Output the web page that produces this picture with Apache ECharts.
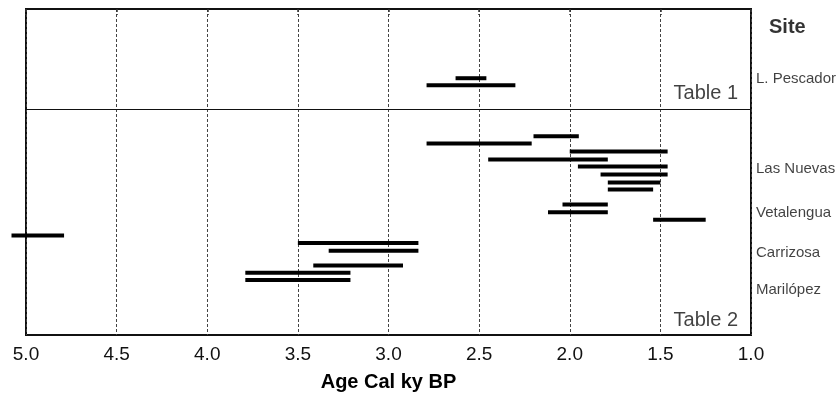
<!DOCTYPE html>
<html>
<head>
<meta charset="utf-8">
<script src="https://cdn.jsdelivr.net/npm/echarts@6/dist/echarts.min.js"></script>
<style>html,body{margin:0;padding:0;background:#fff;}#c{width:838px;height:399px;}</style>
</head>
<body>
<div id="c"></div>
<script>
// Age ranges (ky cal BP): older bound, younger bound, and vertical row position
var oldAge   = [2.63, 2.79, 2.20, 2.79, 2.00, 2.45, 1.955, 1.83, 1.79, 1.79, 2.04, 2.12, 1.54, 5.08, 3.50, 3.33, 3.415, 3.79, 3.79];
var youngAge = [2.46, 2.30, 1.95, 2.21, 1.46, 1.79, 1.46, 1.46, 1.50, 1.54, 1.79, 1.79, 1.25, 4.79, 2.835, 2.835, 2.92, 3.21, 3.21];
var rowPos   = [9.13, 10.06, 16.8, 17.73, 18.79, 19.85, 20.77, 21.83, 22.89, 23.82, 25.8, 26.82, 27.79, 29.86, 30.87, 31.89, 33.83, 34.8, 35.76];

var siteNames = ['L. Pescador', 'Las Nuevas', 'Vetalengua', 'Carrizosa', 'Marilópez'];
var sitePos   = [9.25, 21.15, 26.95, 32.15, 37.05];
var headerText = 'Site';
var headerPos = 2.5;
var tableNames = ['Table 1', 'Table 2'];
var tablePos = [11.2, 41.1];
var separatorPos = 13.2;

var FONT = '"Liberation Sans", Arial, Helvetica, sans-serif';
var chart = echarts.init(document.getElementById('c'), null, {renderer: 'canvas'});

var barData = oldAge.map(function (o, i) { return [o, youngAge[i], rowPos[i]]; });

var option = {
  animation: false,
  backgroundColor: '#fff',
  grid: {left: 26, right: 87, top: 9, bottom: 64, show: true, borderColor: '#111', borderWidth: 2, backgroundColor: 'transparent'},
  xAxis: {
    type: 'value', min: 1, max: 5, interval: 0.5, inverse: true,
    axisLine: {show: true, lineStyle: {color: '#111', width: 2}},
    axisTick: {show: true, length: 6, lineStyle: {color: '#333', width: 1.5, type: [3, 2]}},
    axisLabel: {margin: 10, fontSize: 19, color: '#111', fontFamily: FONT,
      formatter: function (v) { return v.toFixed(1); }},
    splitLine: {show: true, lineStyle: {color: '#444', type: [3, 2], width: 1}},
    name: 'Age Cal ky BP', nameLocation: 'middle', nameGap: 37,
    nameTextStyle: {fontSize: 20, fontWeight: 'bold', color: '#000', fontFamily: FONT}
  },
  yAxis: {
    type: 'value', min: 0, max: 43, inverse: true,
    axisLine: {show: false}, axisTick: {show: false}, axisLabel: {show: false}, splitLine: {show: false}
  },
  series: [
    {
      type: 'custom',
      clip: false,
      data: barData,
      encode: {x: [0, 1], y: 2},
      renderItem: function (params, api) {
        var p1 = api.coord([api.value(0), api.value(2)]);
        var p2 = api.coord([api.value(1), api.value(2)]);
        var h = 4;
        return {
          type: 'rect',
          shape: {x: Math.min(p1[0], p2[0]), y: p1[1] - h / 2, width: Math.abs(p2[0] - p1[0]), height: h},
          style: {fill: '#000'}
        };
      },
      markLine: {
        silent: true, symbol: 'none', label: {show: false},
        lineStyle: {color: '#111', type: 'solid', width: 1.2},
        data: [{yAxis: separatorPos}]
      }
    },
    {
      type: 'scatter', symbolSize: 0, silent: true,
      data: siteNames.map(function (n, i) { return {name: n, value: [1.0, sitePos[i]]}; }),
      label: {show: true, position: 'right', distance: 5, formatter: '{b}', fontSize: 15, color: '#111', fontFamily: FONT}
    },
    {
      type: 'scatter', symbolSize: 0, silent: true,
      data: [{name: headerText, value: [1.0, headerPos]}],
      label: {show: true, position: 'right', distance: 18, formatter: '{b}', fontSize: 20, fontWeight: 'bold', color: '#000', fontFamily: FONT}
    },
    {
      type: 'scatter', symbolSize: 0, silent: true,
      data: tableNames.map(function (n, i) { return {name: n, value: [1.0, tablePos[i]]}; }),
      label: {show: true, position: 'left', distance: 13, formatter: '{b}', fontSize: 20, color: '#111', fontFamily: FONT}
    }
  ]
};
chart.setOption(option);
</script>
</body>
</html>
